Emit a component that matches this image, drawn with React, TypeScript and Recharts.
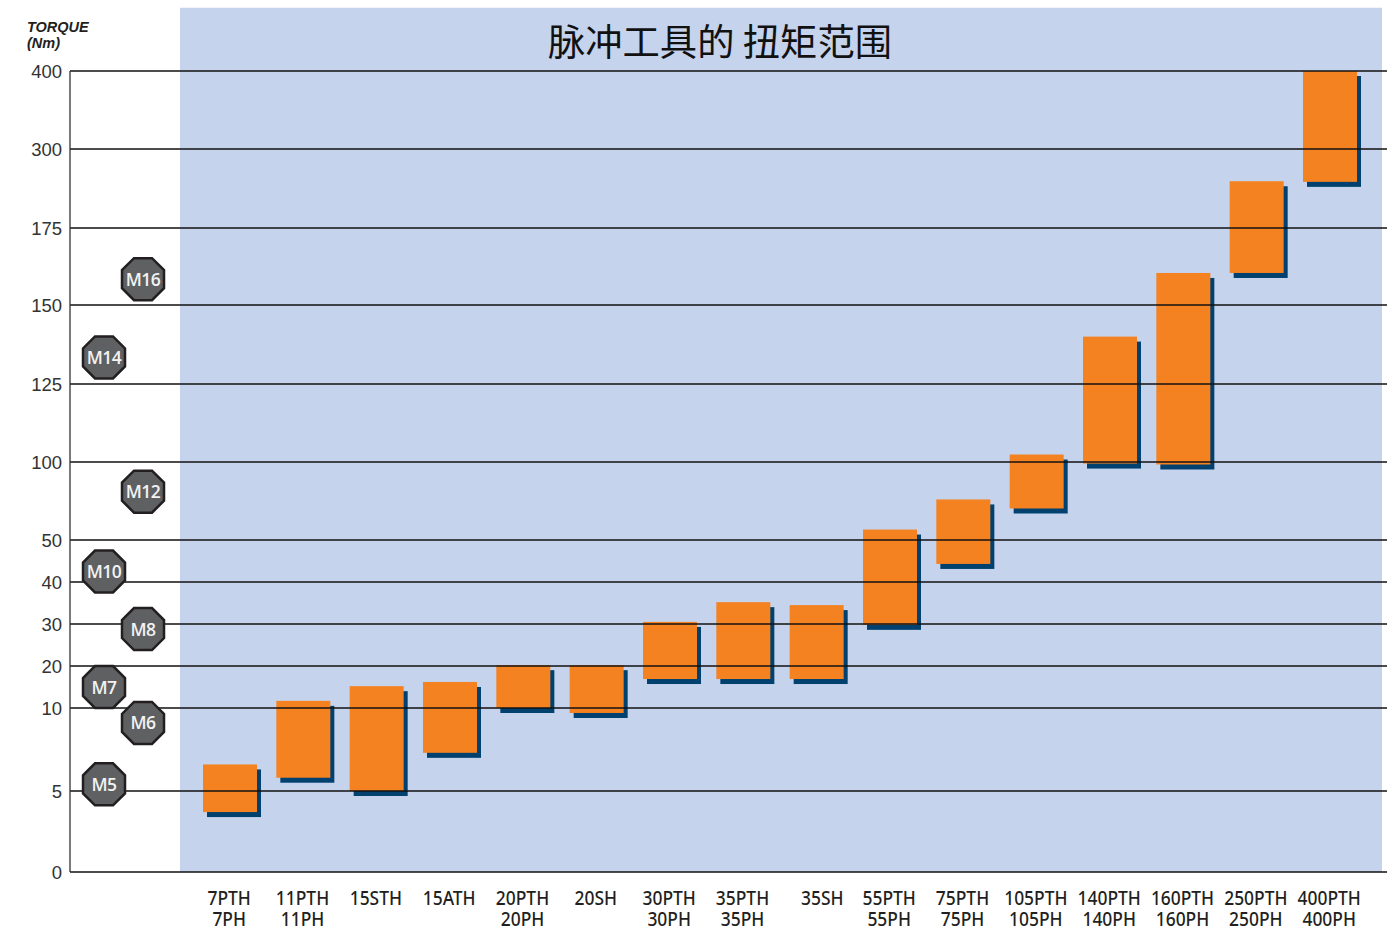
import React from "react";
import { ComposedChart, Bar, Scatter, XAxis, YAxis, ReferenceLine, ReferenceArea } from "recharts";

const toolTop = ["7PTH", "11PTH", "15STH", "15ATH", "20PTH", "20SH", "30PTH", "35PTH", "35SH", "55PTH", "75PTH", "105PTH", "140PTH", "160PTH", "250PTH", "400PTH"];
const toolBottom = ["7PH", "11PH", "", "", "20PH", "", "30PH", "35PH", "", "55PH", "75PH", "105PH", "140PH", "160PH", "250PH", "400PH"];
const torqueMin = [3.7, 5.8, 5, 7.3, 10, 9.7, 16.9, 16.9, 16.9, 29.8, 44.3, 70.2, 99, 98.4, 160.4, 248];
const torqueMax = [6.6, 11.7, 15.2, 16.2, 20.2, 20.2, 30.5, 35.2, 34.5, 56.7, 76, 102.4, 140, 160.4, 249, 400];

const yTicks = [0, 5, 10, 20, 30, 40, 50, 100, 125, 150, 175, 300, 400];
// relative spacing of the printed, non-linear torque axis
const yStops = [0, 81, 164, 206, 248, 290, 332, 410, 488, 567, 644, 723, 801];

const boltNames = ["M5", "M6", "M7", "M8", "M10", "M12", "M14", "M16"];
const boltTorque = [5.4, 9.1, 15, 28.8, 42.5, 81, 133.4, 158.4];
const boltColumn = [0, 1, 0, 1, 0, 1, 0, 1];

const title = "脉冲工具的 扭矩范围";

const rows = toolTop.map((top, i) => ({ top, bottom: toolBottom[i], range: [torqueMin[i], torqueMax[i]] }));
const bolts = boltNames.map((name, i) => ({ name, torque: boltTorque[i], col: boltColumn[i] }));

function makeScale(dom: number[] = [0, 400], rng: number[] = [1, 0]): any {
  let d = dom;
  let r = rng;
  const last = yStops[yStops.length - 1];
  const s: any = (v: number) => {
    let i = 0;
    while (i < yTicks.length - 2 && v > yTicks[i + 1]) i++;
    const pos = yStops[i] + ((v - yTicks[i]) / (yTicks[i + 1] - yTicks[i])) * (yStops[i + 1] - yStops[i]);
    return r[0] + (pos / last) * (r[1] - r[0]);
  };
  s.domain = (x?: number[]) => (x ? ((d = x), s) : d);
  s.range = (x?: number[]) => (x ? ((r = x), s) : r);
  s.copy = () => makeScale(d, r);
  s.ticks = () => yTicks;
  return s;
}
const torqueScale = makeScale();

const BarShape = (p: any) => {
  const h = Math.abs(p.height);
  const y = Math.min(p.y, p.y + p.height);
  return (
    <g>
      <rect x={p.x + 4} y={y + 5} width={p.width} height={h} fill="#00416f" />
      <rect x={p.x} y={y} width={p.width} height={h} fill="#f58220" />
    </g>
  );
};

const Badge = (p: any) => {
  const { cx, cy, payload } = p;
  const R = 21;
  const k = 9;
  const pts = [
    [-k, -R], [k, -R], [R, -k], [R, k], [k, R], [-k, R], [-R, k], [-R, -k],
  ].map(([a, b]) => `${cx + a},${cy + b}`).join(" ");
  return (
    <g>
      <polygon points={pts} fill="#5f6062" stroke="#231f20" strokeWidth={2.5} />
      <text x={cx} y={cy + 6.5} textAnchor="middle" fontFamily="'Open Sans'" fontWeight={600} fontSize={17.5} letterSpacing={-0.5} fill="#f2f2f2">{payload.name}</text>
    </g>
  );
};

const ToolTick = (p: any) => {
  const { x, y, payload, index } = p;
  const bottom = toolBottom[index];
  const shift = payload.value === "35SH" ? 6 : -0.5;
  const line = (label: string, dy: number) => (
    <text transform={`translate(${x + shift},${y + dy}) scale(0.87,1)`} textAnchor="middle" fontFamily="'Noto Sans'" fontWeight={500} fontSize={20} fill="#231f20">{label}</text>
  );
  return (
    <g>
      {line(payload.value, 25)}
      {bottom ? line(bottom, 46) : null}
    </g>
  );
};

export default function App() {
  return (
    <div style={{ position: "absolute", left: 0, top: 0, width: 1394, height: 928, overflow: "hidden" }}>
      <ComposedChart width={1394} height={928} data={rows} margin={{ top: 71, right: 7, bottom: 0, left: 0 }}>
        <XAxis dataKey="top" interval={0} padding={{ left: 123, right: 20.66 }} height={56} axisLine={{ stroke: "#111", strokeWidth: 1.3 }} tickLine={false} tick={<ToolTick />} />
        <XAxis xAxisId="col" type="number" dataKey="col" domain={[-0.872, 32.897]} hide allowDataOverflow />
        <YAxis width={70} type="number" scale={torqueScale} domain={[0, 400]} ticks={yTicks} interval={0} axisLine={{ stroke: "#333", strokeWidth: 1.3 }} tickLine={false} tickMargin={2} tick={{ fontFamily: "'Liberation Sans'", fontSize: 18.5, fill: "#333" }} />
        <ReferenceArea xAxisId="col" x1={1.949} x2={32.769} y1={0} y2={481} ifOverflow="visible" fill="#c5d3ed" fillOpacity={1} stroke="none" />
        {yTicks.slice(1).map((t) => (
          <ReferenceLine key={t} y={t} stroke="#111" strokeWidth={1.3} />
        ))}
        <Bar dataKey="range" barSize={54} shape={<BarShape />} isAnimationActive={false} />
        <Scatter xAxisId="col" data={bolts} dataKey="torque" shape={<Badge />} isAnimationActive={false} />
        <text fontFamily="'Liberation Sans'" fontStyle="italic" fontWeight="bold" fontSize={14.5} fill="#231f20">
          <tspan x={27} y={32}>TORQUE</tspan>
          <tspan x={27} y={48}>(Nm)</tspan>
        </text>
      </ComposedChart>
      <div style={{ position: "absolute", left: 420, top: 13, width: 600, textAlign: "center", fontFamily: "'Noto Sans CJK SC'", fontSize: 37.3, lineHeight: "54px", color: "#111", whiteSpace: "pre" }}>{title}</div>
    </div>
  );
}
